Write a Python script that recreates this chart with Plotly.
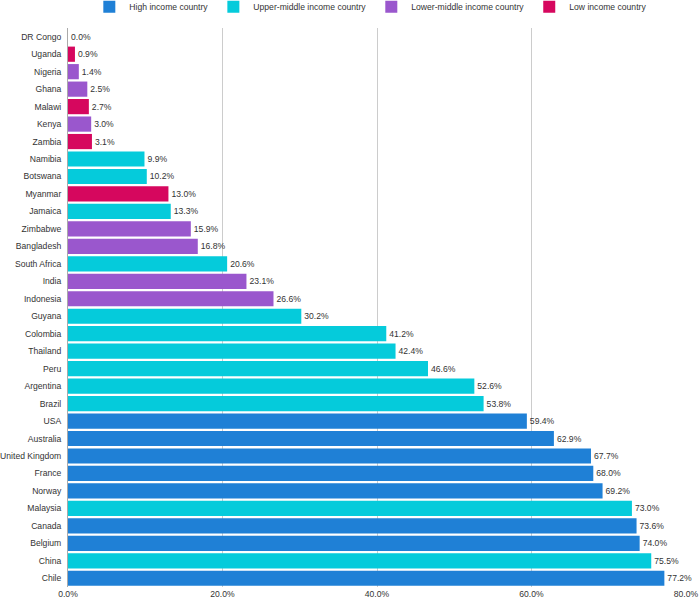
import plotly.graph_objects as go

countries = ["DR Congo", "Uganda", "Nigeria", "Ghana", "Malawi", "Kenya", "Zambia",
             "Namibia", "Botswana", "Myanmar", "Jamaica", "Zimbabwe", "Bangladesh",
             "South Africa", "India", "Indonesia", "Guyana", "Colombia", "Thailand",
             "Peru", "Argentina", "Brazil", "USA", "Australia", "United Kingdom",
             "France", "Norway", "Malaysia", "Canada", "Belgium", "China", "Chile"]
values = [0.0, 0.9, 1.4, 2.5, 2.7, 3.0, 3.1,
          9.9, 10.2, 13.0, 13.3, 15.9, 16.8,
          20.6, 23.1, 26.6, 30.2, 41.2, 42.4,
          46.6, 52.6, 53.8, 59.4, 62.9, 67.7,
          68.0, 69.2, 73.0, 73.6, 74.0, 75.5, 77.2]
groups = ["Low", "Low", "LM", "LM", "Low", "LM", "Low",
          "UM", "UM", "Low", "UM", "LM", "LM",
          "UM", "LM", "LM", "UM", "UM", "UM",
          "UM", "UM", "UM", "High", "High", "High",
          "High", "High", "UM", "High", "High", "UM", "High"]

group_keys = ["High", "UM", "LM", "Low"]
group_names = ["High income country", "Upper-middle income country",
               "Lower-middle income country", "Low income country"]
group_colors = ["#1f80d6", "#05cbdb", "#9a57cd", "#d6075e"]
tick_vals = [0, 20, 40, 60, 80]
tick_text = ["0.0%", "20.0%", "40.0%", "60.0%", "80.0%"]

FS = 8.6

fig = go.Figure()
for key, name, color in zip(group_keys, group_names, group_colors):
    ys = [c for c, g in zip(countries, groups) if g == key]
    xs = [v for v, g in zip(values, groups) if g == key]
    fig.add_trace(go.Bar(
        x=xs, y=ys, orientation="h", name=name,
        marker=dict(color=color, line=dict(width=0)),
        text=[f"{v:.1f}%" for v in xs], textposition="outside",
        textfont=dict(size=FS, color="#333333"),
        cliponaxis=False,
    ))

fig.update_layout(
    width=700, height=599,
    margin=dict(l=68, r=14, t=28, b=12, autoexpand=False),
    barmode="relative", bargap=0.13,
    plot_bgcolor="white", paper_bgcolor="white",
    font=dict(family="Liberation Sans, Arial, sans-serif", size=FS, color="#222222"),
    legend=dict(orientation="h", x=0.49, xanchor="center", y=1.038, yanchor="middle",
                font=dict(size=FS, color="#333333"), traceorder="normal"),
    xaxis=dict(range=[0, 80], tickvals=tick_vals, ticktext=tick_text,
               showgrid=True, gridcolor="#cccccc", gridwidth=1, zeroline=False,
               showline=False, ticks="", automargin=False,
               tickfont=dict(size=FS, color="#333333")),
    yaxis=dict(categoryorder="array", categoryarray=countries, autorange="reversed",
               showline=True, linecolor="#aaaaaa", linewidth=1, ticks="",
               ticklabelstandoff=4, automargin=False,
               tickfont=dict(size=FS, color="#333333")),
)
fig.write_html("out.html")
